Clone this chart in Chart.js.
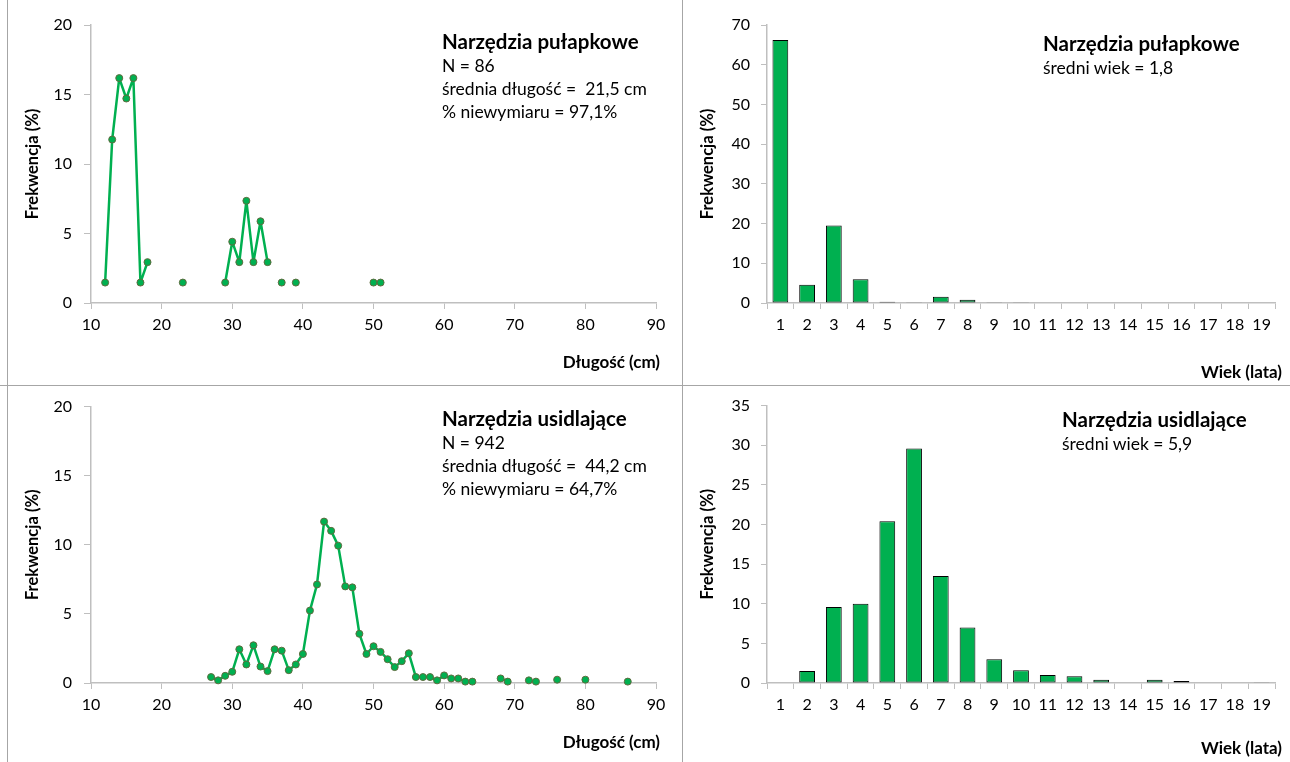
<!DOCTYPE html>
<html>
<head>
<meta charset="utf-8">
<script src="https://cdn.jsdelivr.net/npm/chart.js@4.4.1/dist/chart.umd.min.js"></script>
<style>
  body { margin: 0; background: #fff; width: 1290px; height: 762px; overflow: hidden; position: relative; font-family: Lato, "Open Sans", sans-serif; }
  canvas { position: absolute; }
  .sep { position: absolute; background: #a6a6a6; }
  .note { position: absolute; color: #000; font-size: 17.5px; line-height: 23px; white-space: pre; }
  .note b { font-size: 20.5px; font-weight: 700; display: block; line-height: 25px; }
  .xt { position: absolute; color: #000; font-size: 17px; font-weight: 700; line-height: 20px; text-align: right; white-space: pre; }
</style>
</head>
<body>
<canvas id="lenTop" width="682" height="385" style="left:0;top:0"></canvas>
<canvas id="ageTop" width="608" height="385" style="left:682px;top:0"></canvas>
<canvas id="lenBot" width="682" height="377" style="left:0;top:385px"></canvas>
<canvas id="ageBot" width="608" height="377" style="left:682px;top:385px"></canvas>

<div class="sep" style="left:7px;top:0;width:1px;height:762px"></div>
<div class="sep" style="left:682px;top:0;width:1px;height:762px"></div>
<div class="sep" style="left:0;top:385px;width:1290px;height:1px"></div>

<div class="note" style="left:442px;top:29px"><b>Narzędzia pułapkowe</b>N = 86
średnia długość =  21,5 cm
% niewymiaru = 97,1%</div>
<div class="note" style="left:1043px;top:31px"><b>Narzędzia pułapkowe</b>średni wiek = 1,8</div>
<div class="note" style="left:442px;top:406px"><b>Narzędzia usidlające</b>N = 942
średnia długość =  44,2 cm
% niewymiaru = 64,7%</div>
<div class="note" style="left:1062px;top:407px"><b>Narzędzia usidlające</b>średni wiek = 5,9</div>

<div class="xt" style="right:630px;top:352px">Długość (cm)</div>
<div class="xt" style="right:630px;top:732px">Długość (cm)</div>
<div class="xt" style="right:8px;top:362px">Wiek (lata)</div>
<div class="xt" style="right:8px;top:738px">Wiek (lata)</div>

<script>
// ---- data ----
const trapLengths = [12, 13, 14, 15, 16, 17, 18, 23, 29, 30, 31, 32, 33, 34, 35, 37, 39, 50, 51];
const trapLenFreq = [1.47, 11.76, 16.18, 14.71, 16.18, 1.47, 2.94, 1.47, 1.47, 4.41, 2.94, 7.35, 2.94, 5.88, 2.94, 1.47, 1.47, 1.47, 1.47];

const netLengths = [27, 28, 29, 30, 31, 32, 33, 34, 35, 36, 37, 38, 39, 40, 41, 42, 43, 44, 45, 46,
    47, 48, 49, 50, 51, 52, 53, 54, 55, 56, 57, 58, 59, 60, 61, 62, 63, 64, 68, 69, 72, 73, 76, 80, 86];
const netLenFreq = [0.43, 0.19, 0.52, 0.81, 2.44, 1.34, 2.73, 1.19, 0.86, 2.44, 2.34, 0.93, 1.34, 2.10, 5.24, 7.13, 11.68, 11.01, 9.94, 6.99,
    6.92, 3.56, 2.10, 2.66, 2.25, 1.72, 1.15, 1.58, 2.15, 0.43, 0.43, 0.43, 0.19, 0.55, 0.33, 0.33, 0.10, 0.10, 0.33, 0.10, 0.19, 0.10, 0.24, 0.24, 0.10];

const ageLabels = ['1', '2', '3', '4', '5', '6', '7', '8', '9', '10', '11', '12', '13', '14', '15', '16', '17', '18', '19'];
const trapAgeFreq = [66.2, 4.6, 19.5, 6.0, 0.3, 0.2, 1.6, 0.8, 0.2, 0.2, null, null, null, null, null, null, null, null, null];
const netAgeFreq = [null, 1.5, 9.6, 10.0, 20.4, 29.6, 13.5, 7.0, 3.0, 1.6, 1.0, 0.85, 0.4, null, 0.4, 0.25, null, null, 0.1];

const GREEN = '#00b050';
const AXIS = '#bfbfbf';
const FONT = 'Lato, "Open Sans", sans-serif';

// fill missing lengths with null so the line breaks there like in Excel
function toPoints(xs, ys) {
    const pts = [];
    for (let i = 0; i < xs.length; i++) {
        if (i > 0 && xs[i] - xs[i - 1] > 1) pts.push({ x: xs[i - 1] + 1, y: null });
        pts.push({ x: xs[i], y: ys[i] });
    }
    return pts;
}

function lengthChart(id, xs, ys, yPad, xHeight) {
    return new Chart(document.getElementById(id), {
        type: 'line',
        data: {
            datasets: [{
                data: toPoints(xs, ys),
                borderColor: GREEN,
                borderWidth: 2.5,
                borderJoinStyle: 'round',
                pointRadius: 3.5,
                pointBackgroundColor: GREEN,
                pointBorderColor: '#5e6b3e',
                pointBorderWidth: 1,
                spanGaps: false,
                tension: 0,
                clip: false
            }]
        },
        options: {
            responsive: false,
            animation: false,
            layout: { padding: { top: yPad, right: 26, left: 0, bottom: 0 } },
            plugins: { legend: { display: false }, tooltip: { enabled: false } },
            scales: {
                x: {
                    type: 'linear', min: 10, max: 90,
                    afterFit: s => { s.height = xHeight; },
                    border: { color: AXIS, width: 1.5 },
                    grid: { drawOnChartArea: false, tickLength: 6, color: AXIS },
                    ticks: { stepSize: 10, color: '#000', padding: 6, font: { family: FONT, size: 16 } }
                },
                y: {
                    min: 0, max: 20,
                    afterFit: s => { s.width = 91; },
                    border: { color: AXIS, width: 1.5 },
                    grid: { drawOnChartArea: false, tickLength: 7, color: AXIS },
                    ticks: { stepSize: 5, color: '#000', padding: 12, font: { family: FONT, size: 16 } },
                    title: { display: true, text: 'Frekwencja (%)', color: '#000',
                        font: { family: FONT, size: 16.5, weight: 'bold' }, padding: { top: 23 } }
                }
            }
        }
    });
}

function ageChart(id, values, yMax, yStep, yPad, xHeight) {
    return new Chart(document.getElementById(id), {
        type: 'bar',
        data: {
            labels: ageLabels,
            datasets: [{
                data: values,
                backgroundColor: GREEN,
                borderColor: '#000',
                borderWidth: 1,
                borderSkipped: false,
                barPercentage: 0.59,
                categoryPercentage: 1
            }]
        },
        options: {
            responsive: false,
            animation: false,
            layout: { padding: { top: yPad, right: 15, left: 0, bottom: 0 } },
            plugins: { legend: { display: false }, tooltip: { enabled: false } },
            scales: {
                x: {
                    afterFit: s => { s.height = xHeight; },
                    border: { color: AXIS, width: 1.5 },
                    grid: { drawOnChartArea: false, offset: true, tickLength: 6, color: AXIS },
                    ticks: { color: '#000', padding: 6, maxRotation: 0, autoSkip: false, font: { family: FONT, size: 16 } }
                },
                y: {
                    min: 0, max: yMax,
                    afterFit: s => { s.width = 85; },
                    border: { color: AXIS, width: 1.5 },
                    grid: { drawOnChartArea: false, tickLength: 6, color: AXIS },
                    ticks: { stepSize: yStep, color: '#000', padding: 11, font: { family: FONT, size: 16 } },
                    title: { display: true, text: 'Frekwencja (%)', color: '#000',
                        font: { family: FONT, size: 16.5, weight: 'bold' }, padding: { top: 16 } }
                }
            }
        }
    });
}

lengthChart('lenTop', trapLengths, trapLenFreq, 25, 82);
lengthChart('lenBot', netLengths, netLenFreq, 20, 79);
ageChart('ageTop', trapAgeFreq, 70, 10, 25, 82);
ageChart('ageBot', netAgeFreq, 35, 5, 20, 79);
</script>
</body>
</html>
